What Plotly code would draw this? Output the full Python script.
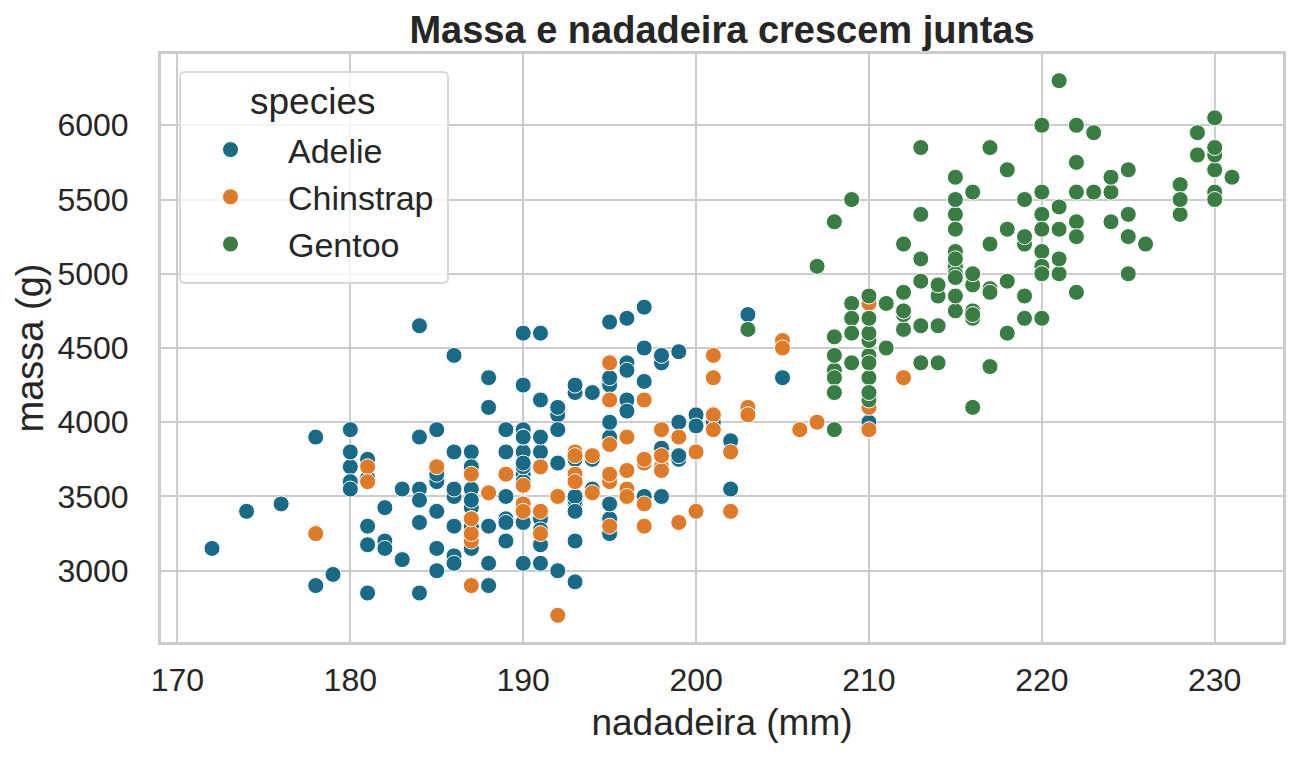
import plotly.graph_objects as go

# Adelie: flipper length (mm), body mass (g)
adelie_flipper = [181,186,195,193,190,181,195,193,190,186,180,182,191,198,185,195,197,184,194,174,
                  180,189,185,180,187,183,187,172,180,178,178,188,184,195,196,190,180,181,184,182,
                  195,186,196,185,190,182,179,190,191,186,188,190,200,187,191,186,193,181,194,185,
                  195,185,192,184,192,195,188,190,198,190,190,196,197,190,195,191,184,187,195,189,
                  196,187,193,191,194,190,189,189,190,202,205,185,186,187,208,190,196,178,192,192,
                  203,183,190,193,184,199,190,181,197,198,191,193,197,191,196,188,199,189,189,187,
                  198,176,202,186,199,191,195,191,210,190,197,193,199,187,190,191,200,185,193,193,
                  187,188,190,192,185,190,184,195,193,187,201]
adelie_mass = [3750,3800,3250,3450,3650,3625,4675,3475,4250,3300,3700,3200,3800,4400,3700,3450,4500,3325,4200,3400,
               3600,3800,3950,3800,3800,3550,3200,3150,3950,3250,3900,3300,3900,3325,4150,3950,3550,3300,4650,3150,
               3900,3100,4400,3000,4600,3425,2975,3450,4150,3500,4300,3450,4050,2900,3700,3550,3800,2850,3750,3150,
               4400,3600,4050,2850,3950,3350,4100,3050,4450,3600,3900,3550,4150,3700,4250,3700,3900,3550,4000,3200,
               4700,3800,4200,3350,3550,3800,3500,3950,3600,3550,4300,3400,4450,3300,4300,3700,4350,2900,4100,3725,
               4725,3075,4250,2925,3550,3750,3900,3175,4775,3825,4600,3200,4275,3900,4075,2900,3775,3350,3325,3150,
               3500,3450,3875,3050,4000,3275,4300,3050,4000,3325,3500,3500,4475,3425,3900,3175,3975,3400,4250,3400,
               3475,3050,3725,3000,3650,4250,3475,3450,3750,3700,4000]

# Chinstrap
chinstrap_flipper = [192,196,193,188,197,198,178,197,195,198,193,194,185,201,190,201,197,181,190,195,
                     181,191,187,193,195,197,200,200,191,205,187,201,187,203,195,199,195,210,192,205,
                     210,187,196,196,196,201,190,212,187,198,199,201,193,203,187,197,191,203,202,194,
                     206,189,195,207,202,193,210,198]
chinstrap_mass = [3500,3900,3650,3525,3725,3950,3250,3750,4150,3700,3800,3775,3700,4050,3575,4050,3300,3700,3450,4400,
                  3600,3400,2900,3800,3300,4150,3400,3800,3700,4550,3200,4300,3350,4100,3600,3900,3850,4800,2700,4500,
                  3950,3650,3550,3500,3675,4450,3400,4300,3250,3675,3325,3950,3600,4050,3350,3450,3250,4050,3800,3525,
                  3950,3650,3650,4000,3400,3775,4100,3775]

# Gentoo
gentoo_flipper = [211,230,210,218,215,210,211,219,209,215,214,216,214,213,210,217,210,221,209,222,
                  218,215,213,215,215,215,216,215,210,220,222,209,207,230,220,220,213,219,208,208,
                  208,225,210,216,222,217,210,225,213,215,210,220,210,225,217,220,208,220,208,224,
                  208,221,214,231,219,230,214,229,220,223,216,221,221,217,216,230,209,220,215,223,
                  212,221,212,224,212,228,218,218,212,230,218,228,212,224,214,226,216,222,203,225,
                  219,228,215,228,216,215,210,219,208,209,216,229,213,230,217,230,217,222,214,215,
                  222,212,213]
gentoo_mass = [4500,5700,4450,5700,5400,4550,4800,5200,4400,5150,4650,5550,4650,5850,4200,5850,4150,6300,4800,5350,
               5700,5000,4400,5050,5000,5100,4100,5650,4600,5550,5250,4700,5050,6050,5150,5400,4950,5250,4350,5350,
               3950,5700,4300,4750,5550,4900,4200,5400,5100,5300,4850,5300,4400,5000,4900,5050,4300,5000,4450,5550,
               4200,5300,4400,5650,4700,5700,4650,5800,4700,5550,4750,5000,5100,5200,4700,5800,4600,6000,4750,5950,
               4625,5450,4725,5350,4750,5600,4600,5300,4875,5550,4950,5400,4750,5650,4850,5200,4925,4875,4625,5250,
               4850,5600,4975,5500,4725,5500,4700,5500,4575,5500,5000,5950,4650,5500,4375,5850,4875,6000,4925,4850,
               5750,5200,5400]

species = ["Adelie", "Chinstrap", "Gentoo"]
colors = ["#186a87", "#de7a28", "#3a7d44"]
xs = [adelie_flipper, chinstrap_flipper, gentoo_flipper]
ys = [adelie_mass, chinstrap_mass, gentoo_mass]

FONT = "Liberation Sans, Arial, sans-serif"
TXT = "#262626"
GRID = "#cccccc"

# page body adds an 8px offset; figure sized so the plot lands where the reference has it
OFF = 8
W, H = 1299 - OFF, 759 - OFF
L, R, T, B = 161 - OFF, 16, 54 - OFF, 117
PW, PH = W - L - R, H - T - B


def px_x(s):
    return (s - OFF - L) / PW


def px_y(s):
    return (H - B - (s - OFF)) / PH


fig = go.Figure()
for name, col, x, y in zip(species, colors, xs, ys):
    fig.add_trace(go.Scatter(
        x=x, y=y, mode="markers", name=name,
        marker=dict(size=16, color=col, line=dict(color="white", width=1)),
    ))

# rounded legend frame
x0, x1, y0, y1 = px_x(180), px_x(448), px_y(283), px_y(72)
rx, ry = 5 / PW, 5 / PH
path = (f"M {x0+rx},{y0} L {x1-rx},{y0} Q {x1},{y0} {x1},{y0+ry} "
        f"L {x1},{y1-ry} Q {x1},{y1} {x1-rx},{y1} L {x0+rx},{y1} Q {x0},{y1} {x0},{y1-ry} "
        f"L {x0},{y0+ry} Q {x0},{y0} {x0+rx},{y0} Z")

fig.update_layout(
    width=W, height=H,
    paper_bgcolor="white", plot_bgcolor="white",
    margin=dict(l=L, r=R, t=T, b=B, autoexpand=False),
    font=dict(family=FONT, color=TXT, size=32),
    title=dict(text="<b>Massa e nadadeira crescem juntas</b>",
               x=0.5, xref="paper", xanchor="center",
               y=1 - (30 - OFF) / H, yref="container", yanchor="middle",
               font=dict(size=38, color=TXT, family=FONT)),
    legend=dict(
        x=px_x(173), y=px_y(121), xanchor="left", yanchor="top",
        bgcolor="rgba(0,0,0,0)", borderwidth=0,
        font=dict(size=34, color=TXT, family=FONT),
        itemwidth=105,
    ),
    shapes=[dict(type="path", path=path, xref="paper", yref="paper",
                 fillcolor="rgba(255,255,255,0.8)", line=dict(color="#d9d9d9", width=2),
                 layer="above")],
    annotations=[dict(text="species", x=px_x(312), y=px_y(101), xref="paper", yref="paper",
                      xanchor="center", yanchor="middle", showarrow=False,
                      font=dict(size=37, color=TXT, family=FONT))],
    showlegend=True,
)

fig.update_xaxes(
    range=[169.05, 233.95], tick0=170, dtick=10,
    showgrid=True, gridcolor=GRID, gridwidth=2,
    showline=True, linecolor=GRID, linewidth=3, mirror=True,
    zeroline=False, ticks="outside", ticklen=8, tickcolor="rgba(0,0,0,0)",
    tickfont=dict(size=32, color=TXT, family=FONT), automargin=False,
    title=dict(text="nadadeira (mm)", font=dict(size=37, color=TXT, family=FONT), standoff=12),
)
fig.update_yaxes(
    range=[2520, 6480], tick0=3000, dtick=500,
    showgrid=True, gridcolor=GRID, gridwidth=2,
    showline=True, linecolor=GRID, linewidth=3, mirror=True,
    zeroline=False, ticks="outside", ticklen=23, tickcolor="rgba(0,0,0,0)",
    tickfont=dict(size=32, color=TXT, family=FONT), automargin=False,
    title=dict(text="massa (g)", font=dict(size=38, color=TXT, family=FONT), standoff=3),
)

fig.write_html("out.html")
